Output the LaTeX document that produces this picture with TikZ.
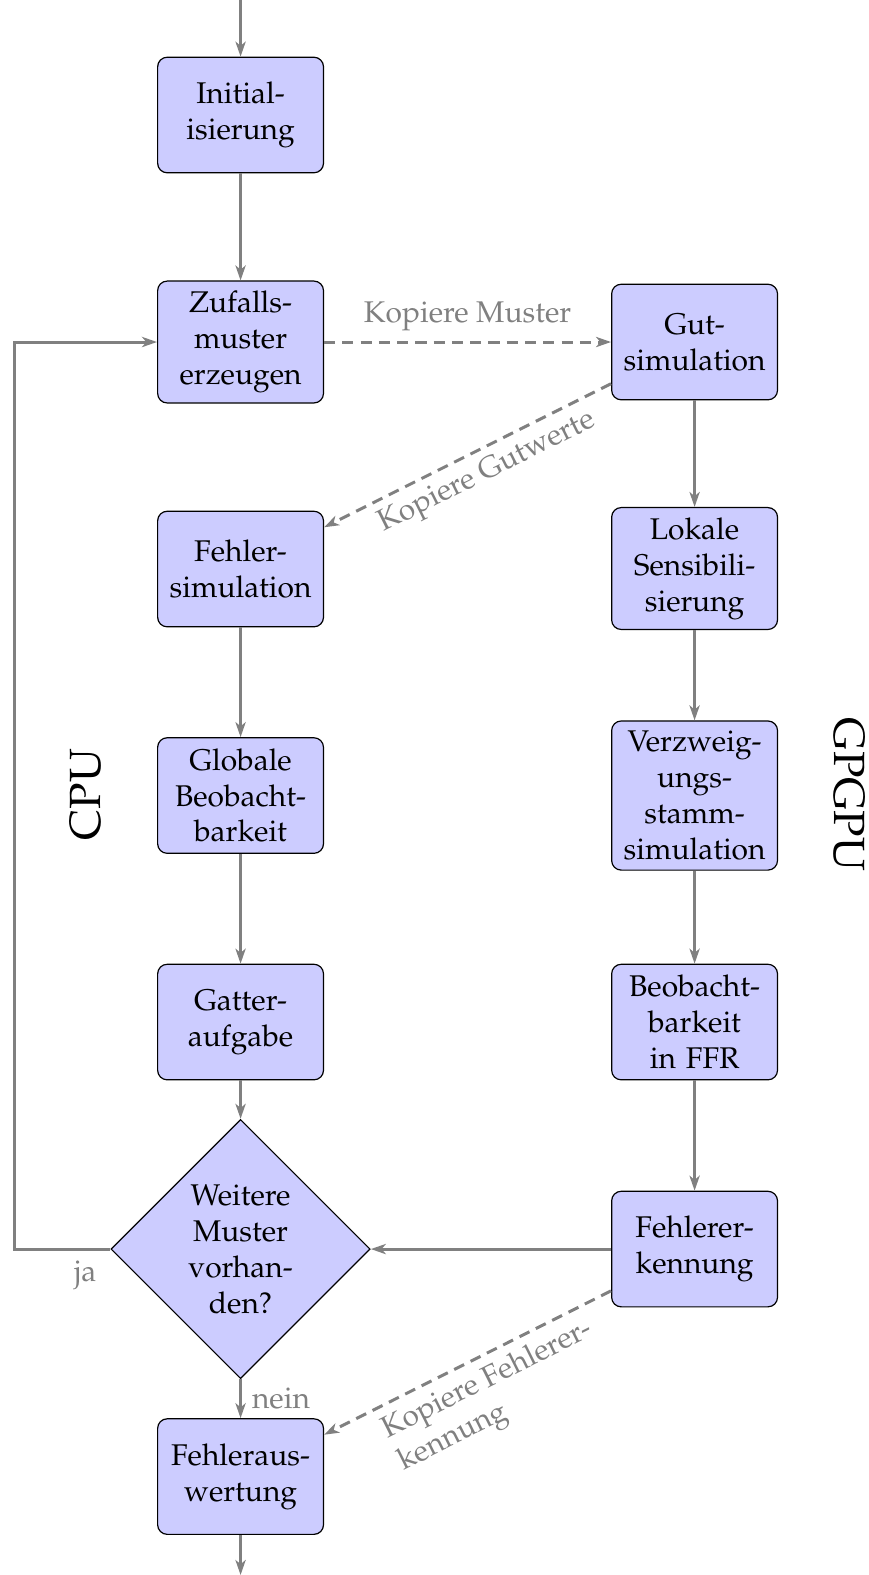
\documentclass[tikz,border=0pt]{standalone}
\usepackage[T1]{fontenc}
\usepackage{mathpazo}
\usetikzlibrary{shapes.geometric,arrows.meta}
\definecolor{boxfill}{RGB}{204,204,255}
\begin{document}
\begin{tikzpicture}[x=0.3355pt,y=-0.3355pt,
  every node/.style={font=\fontsize{10}{12}\selectfont},
  stepbox/.style={draw=black, fill=boxfill, rounded corners=3.2pt,
    minimum width=55.4pt, minimum height=38.6pt, text width=48pt,
    align=center, inner sep=3.33pt, line width=0.4pt},
  decide/.style={diamond, draw=black, fill=boxfill, aspect=1,
    minimum width=86.6pt, minimum height=86.6pt, inner sep=0pt,
    text width=38pt, align=center, line width=0.4pt},
  flow/.style={draw=gray, line width=1pt,
    -{Stealth[length=5pt,width=3.4pt,inset=1.4pt]}},
  copy/.style={flow, dash pattern=on 3.7pt off 2.4pt},
  lbl/.style={text=gray},
  side/.style={font=\fontsize{14.6}{18}\selectfont}
]
\useasboundingbox (0,0) rectangle (865,1568);

% CPU column
\node[stepbox] (init) at (239.5,114.5) {Initial-\\isierung};
\node[stepbox] (zuf)  at (239.5,340.5) {Zufalls-\\muster\\erzeugen};
\node[stepbox] (fs)   at (239.5,566.5) {Fehler-\\simulation};
\node[stepbox] (glob) at (239.5,792) {Globale\\Beobacht-\\barkeit};
\node[stepbox] (gat)  at (239.5,1017.5) {Gatter-\\aufgabe};
\node[decide]  (dia)  at (239.5,1243.5) {Weitere\\Muster\\vorhan-\\den?};
\node[stepbox] (ausw) at (239.5,1470) {Fehleraus-\\wertung};

% GPGPU column
\node[stepbox] (gut)  at (691.5,340.5) {Gut-\\simulation};
\node[stepbox] (lok)  at (691.5,566) {Lokale\\Sensibili-\\sierung};
\node[stepbox] (verz) at (691.5,792) {Verzweig-\\ungs-\\stamm-\\simulation};
\node[stepbox] (ffr)  at (691.5,1017.5) {Beobacht-\\barkeit\\in FFR};
\node[stepbox] (erk)  at (691.5,1243.5) {Fehlerer-\\kennung};

% side captions
\node[side, rotate=90]  (cpu)   at (85,791) {CPU};
\node[side, rotate=-90] (gpgpu) at (845,791) {GPGPU};

% entry and exit
\coordinate (start) at (239.5,0);
\coordinate (stop)  at (239.5,1568);
\coordinate (loop)  at (14,340.5);

% control flow
\draw[flow] (start) -- (init);
\draw[flow] (init) -- (zuf);
\draw[flow] (fs) -- (glob);
\draw[flow] (glob) -- (gat);
\draw[flow] (gat) -- (dia);
\draw[flow] (dia) -- node[lbl, right] (nein) {nein} (ausw);
\draw[flow] (ausw) -- (stop);
\draw[flow] (dia.west) -| node[lbl, pos=0.13, below] (ja) {ja} (loop) -- (zuf.west);

\draw[flow] (gut) -- (lok);
\draw[flow] (lok) -- (verz);
\draw[flow] (verz) -- (ffr);
\draw[flow] (ffr) -- (erk);
\draw[flow] (erk) -- (dia);

% data transfers
\draw[copy] (zuf) -- node[lbl, above] (lm) {Kopiere Muster} (gut);
\draw[copy] (gut) -- node[lbl, sloped, below, pos=0.47, inner sep=2.8pt] (lg) {Kopiere Gutwerte} (fs);
\draw[copy] (erk) -- node[lbl, sloped, below, pos=0.47, align=left, inner sep=2.8pt] (lf) {Kopiere Fehlerer-\\kennung} (ausw);
\end{tikzpicture}
\end{document}
